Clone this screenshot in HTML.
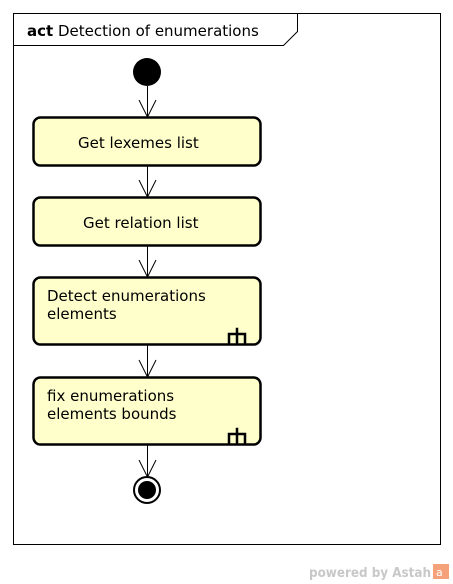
<!DOCTYPE html>
<html><head><meta charset="utf-8"><style>
html,body{margin:0;padding:0;background:#fff;}
svg{display:block;font-family:"DejaVu Sans","Liberation Sans",sans-serif;}
</style></head><body>
<svg width="453" height="584" viewBox="0 0 453 584" xmlns="http://www.w3.org/2000/svg">
<rect x="13.5" y="13.5" width="427" height="531" fill="#fff" stroke="#000" stroke-width="1"/>
<polyline points="13.5,45.5 283.5,45.5 297.5,31.5 297.5,13.5" fill="none" stroke="#000" stroke-width="1"/>
<text x="27" y="36" font-size="15" fill="#000"><tspan font-weight="bold">act</tspan> Detection of enumerations</text>
<circle cx="147" cy="72" r="14" fill="#000"/>
<g stroke="#000" stroke-width="1" fill="none">
<line x1="147.5" y1="86" x2="147.5" y2="117"/><polyline points="139,100 147.5,117 156,100"/>
<line x1="147.5" y1="166" x2="147.5" y2="197"/><polyline points="139,180 147.5,197 156,180"/>
<line x1="147.5" y1="246" x2="147.5" y2="277"/><polyline points="139,260 147.5,277 156,260"/>
<line x1="147.5" y1="345" x2="147.5" y2="377"/><polyline points="139,360 147.5,377 156,360"/>
<line x1="147.5" y1="445" x2="147.5" y2="477"/><polyline points="139,460 147.5,477 156,460"/>
</g>
<g fill="#ffffcc" stroke="#000" stroke-width="2.5">
<rect x="33.5" y="117.5" width="227" height="48" rx="7"/>
<rect x="33.5" y="197.5" width="227" height="48" rx="7"/>
<rect x="33.5" y="277.5" width="227" height="67" rx="7"/>
<rect x="33.5" y="377.5" width="227" height="67" rx="7"/>
</g>
<g font-size="15" fill="#000">
<text x="78" y="148">Get lexemes list</text>
<text x="83" y="228">Get relation list</text>
<text x="47" y="301">Detect enumerations</text>
<text x="47" y="319">elements</text>
<text x="47" y="401">fix enumerations</text>
<text x="47" y="419">elements bounds</text>
</g>
<g stroke="#000" stroke-width="2.5" fill="none" stroke-linecap="square">
<path d="M229,343 V334 H245 V343 M237,329 V343"/>
<path d="M229,443 V434 H245 V443 M237,429 V443"/>
</g>
<circle cx="147" cy="490" r="13" fill="#fff" stroke="#000" stroke-width="2"/>
<circle cx="147" cy="490" r="9" fill="#000"/>
<text x="309" y="577" font-size="13" font-weight="bold" fill="#c8c8c8" textLength="122" lengthAdjust="spacingAndGlyphs">powered by Astah</text>
<rect x="433" y="564" width="16" height="15" fill="#f5a27a"/>
<text x="436" y="576" font-size="11" fill="#fff">a</text>
</svg>
</body></html>
